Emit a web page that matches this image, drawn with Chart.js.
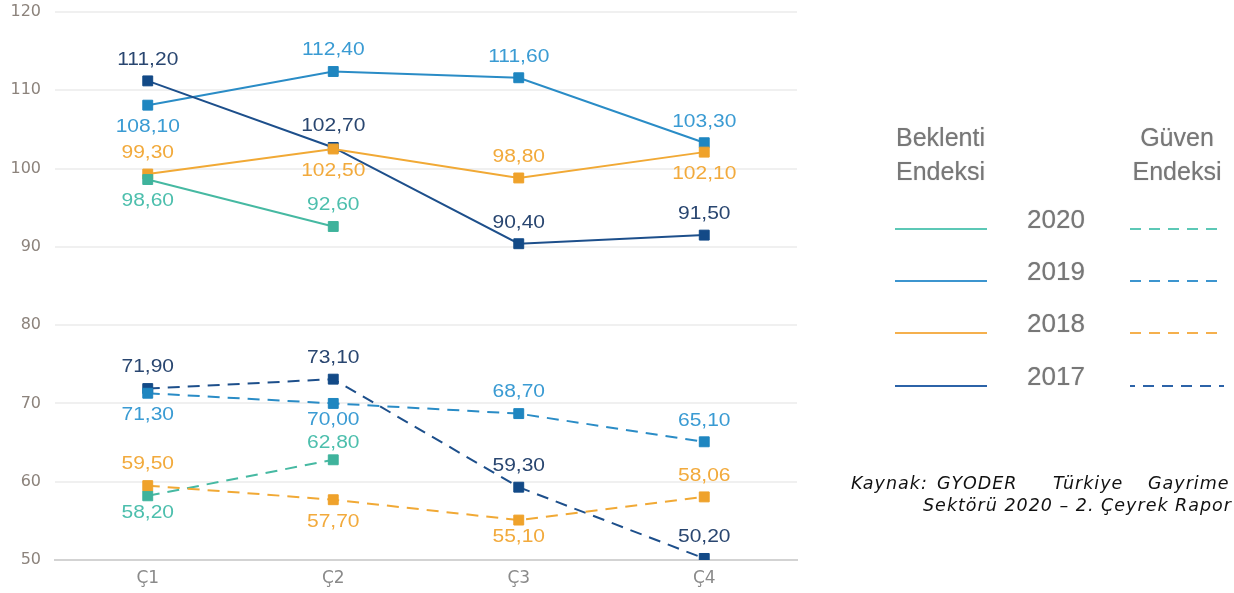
<!DOCTYPE html>
<html>
<head>
<meta charset="utf-8">
<script src="https://cdn.jsdelivr.net/npm/chart.js@4"></script>
<style>
  body { margin: 0; background: #fff; width: 1234px; height: 593px; overflow: hidden; position: relative; font-family: "Liberation Sans", Arial, sans-serif; }
  #myChart { position: absolute; left: 0; top: 0; }
  .lg { position: absolute; color: #777; font-size: 25px; line-height: 34px; text-shadow: 0 0 1px rgba(0,0,0,0.3); }
  .yr { position: absolute; color: #777; font-size: 26px; line-height: 30px; text-shadow: 0 0 1px rgba(0,0,0,0.3); }
  .src { position: absolute; font-family: "DejaVu Sans", Verdana, sans-serif; font-style: italic; font-size: 17.5px; letter-spacing: 1px; color: #111; line-height: 22px; white-space: nowrap; }
  svg { position: absolute; left: 0; top: 0; }
</style>
</head>
<body>
<canvas id="myChart" width="1234" height="593"></canvas>

<div class="lg" style="left:896px; top:120px;">Beklenti<br>Endeksi</div>
<div class="lg" style="left:1127px; top:120px; text-align:center; width:100px;">Güven<br>Endeksi</div>
<div class="yr" style="left:1027px; top:204px;">2020</div>
<div class="yr" style="left:1027px; top:256px;">2019</div>
<div class="yr" style="left:1027px; top:308px;">2018</div>
<div class="yr" style="left:1027px; top:361px;">2017</div>

<svg width="1234" height="593">
  <line x1="895" y1="229" x2="987" y2="229" stroke="#5cc8b6" stroke-width="2"/>
  <line x1="895" y1="281" x2="987" y2="281" stroke="#3c95cf" stroke-width="2"/>
  <line x1="895" y1="333" x2="987" y2="333" stroke="#f5b04d" stroke-width="2"/>
  <line x1="895" y1="386" x2="987" y2="386" stroke="#2c63a8" stroke-width="2"/>
  <line x1="1130" y1="229" x2="1224" y2="229" stroke="#5cc8b6" stroke-width="2" stroke-dasharray="11,8"/>
  <line x1="1130" y1="281" x2="1224" y2="281" stroke="#3c95cf" stroke-width="2" stroke-dasharray="11,8"/>
  <line x1="1130" y1="333" x2="1224" y2="333" stroke="#f5b04d" stroke-width="2" stroke-dasharray="11,8"/>
  <line x1="1130" y1="386" x2="1224" y2="386" stroke="#2c63a8" stroke-width="2" stroke-dasharray="11,8" stroke-dashoffset="6"/>
</svg>

<div class="src" style="left:851px; top:472px;">Kaynak:</div>
<div class="src" style="left:937px; top:472px;">GYODER</div>
<div class="src" style="left:1053px; top:472px;">Türkiye</div>
<div class="src" style="left:1148px; top:472px;">Gayrime</div>
<div class="src" style="right:2px; top:494px;">Sektörü 2020 – 2. Çeyrek Rapor</div>

<script>
// categories
var quarters = ['Ç1', 'Ç2', 'Ç3', 'Ç4'];

// Beklenti Endeksi (solid)
var beklenti2020 = [98.6, 92.6, null, null];
var beklenti2019 = [108.1, 112.4, 111.6, 103.3];
var beklenti2018 = [99.3, 102.5, 98.8, 102.1];
var beklenti2017 = [111.2, 102.7, 90.4, 91.5];

// Güven Endeksi (dashed)
var guven2020 = [58.2, 62.8, null, null];
var guven2019 = [71.3, 70.0, 68.7, 65.1];
var guven2018 = [59.5, 57.7, 55.1, 58.06];
var guven2017 = [71.9, 73.1, 59.3, 50.2];

// y ticks
var yMin = 50, yMax = 120, yStep = 10;

// colours per year
var lineCol  = { '2020': '#46b9a2', '2019': '#2a8cc6', '2018': '#f1a935', '2017': '#1d4f8b' };
var pointCol = { '2020': '#3fb39c', '2019': '#1f86c0', '2018': '#efa22b', '2017': '#134a87' };
var textCol  = { '2020': '#4dbfad', '2019': '#3a9bd3', '2018': '#f2aa3c', '2017': '#294670' };

// where the value label sits: 'u' above, 'd' below, capitals = closer to the point
var labelSide = {
    b2020: ['d', 'u', 'u', 'u'],
    b2019: ['d', 'u', 'u', 'u'],
    b2018: ['u', 'd', 'u', 'd'],
    b2017: ['u', 'u', 'u', 'u'],
    g2020: ['D', 'U', 'u', 'u'],
    g2019: ['d', 'D', 'u', 'u'],
    g2018: ['u', 'd', 'D', 'u'],
    g2017: ['u', 'u', 'u', 'u']
};
var labelGap = { u: -21, d: 22, U: -17, D: 17 };

function makeSet(key, year, values, dashed) {
    return {
        label: key,
        data: values,
        year: year,
        side: labelSide[key],
        borderColor: lineCol[year],
        backgroundColor: pointCol[year],
        pointBackgroundColor: pointCol[year],
        pointBorderColor: pointCol[year],
        pointBorderWidth: 1,
        pointStyle: 'rect',
        pointRadius: 7,
        pointHoverRadius: 7,
        borderWidth: 2,
        borderDash: dashed ? [12, 8] : [],
        tension: 0,
        spanGaps: false
    };
}

var valueLabels = {
    id: 'valueLabels',
    afterDatasetsDraw: function(chart) {
        var ctx = chart.ctx;
        ctx.save();
        ctx.font = '17.5px "Liberation Sans", Arial, sans-serif';
        ctx.textAlign = 'center';
        ctx.textBaseline = 'middle';
        chart.data.datasets.forEach(function(ds, i) {
            var meta = chart.getDatasetMeta(i);
            meta.data.forEach(function(pt, j) {
                var v = ds.data[j];
                if (v === null || v === undefined) return;
                ctx.fillStyle = textCol[ds.year];
                ctx.save();
                ctx.translate(pt.x, pt.y + labelGap[ds.side[j]]);
                ctx.scale(1.2, 1);
                ctx.fillText(v.toFixed(2).replace('.', ','), 0, 0);
                ctx.restore();
            });
        });
        ctx.restore();
    }
};

var ctx = document.getElementById('myChart').getContext('2d');

var myChart = new Chart(ctx, {
    type: 'line',
    data: {
        labels: quarters,
        datasets: [
            makeSet('g2018', '2018', guven2018, true),
            makeSet('g2020', '2020', guven2020, true),
            makeSet('g2019', '2019', guven2019, true),
            makeSet('g2017', '2017', guven2017, true),
            makeSet('b2020', '2020', beklenti2020, false),
            makeSet('b2018', '2018', beklenti2018, false),
            makeSet('b2017', '2017', beklenti2017, false),
            makeSet('b2019', '2019', beklenti2019, false)
        ]
    },
    options: {
        responsive: false,
        animation: false,
        layout: { padding: { top: 12, right: 437, left: 0, bottom: 0 } },
        plugins: {
            legend: { display: false },
            tooltip: { enabled: false }
        },
        scales: {
            x: {
                offset: true,
                grid: { display: false, drawTicks: false },
                border: { display: true, color: '#d3d3d3', width: 2 },
                ticks: {
                    padding: 8,
                    color: '#8a8a8a',
                    font: { family: 'DejaVu Sans', size: 17 }
                },
                afterFit: function(scale) { scale.height = 33; }
            },
            y: {
                min: yMin,
                max: yMax,
                grid: { color: '#f0f0f0', lineWidth: 2, drawTicks: false },
                border: { display: false },
                ticks: {
                    stepSize: yStep,
                    padding: 14,
                    color: '#8c837c',
                    font: { family: 'DejaVu Sans', size: 16 }
                },
                afterFit: function(scale) {
                    scale.width = 55;
                    scale.paddingTop = 0;
                    scale.paddingBottom = 0;
                }
            }
        }
    },
    plugins: [valueLabels]
});
</script>
</body>
</html>
